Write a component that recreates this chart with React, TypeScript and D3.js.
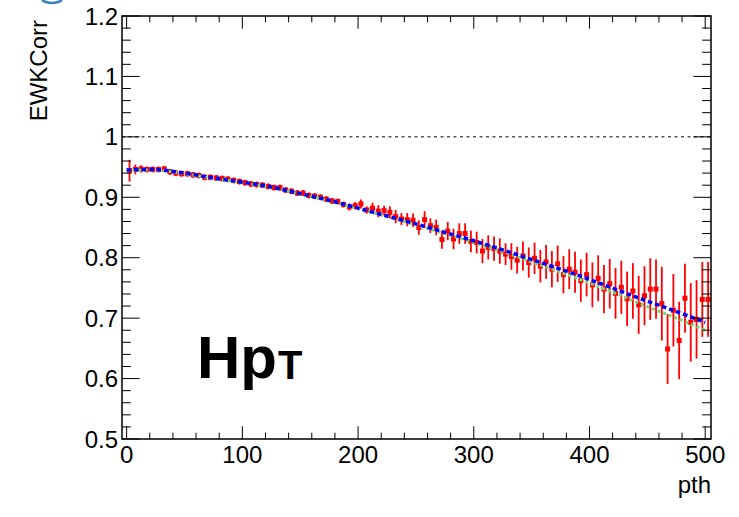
import React from "react";
import * as d3 from "d3";

// red histogram: bin centres 2.5 .. 502.5 (width 5)
const redVal = [
  0.944, 0.946, 0.947, 0.946, 0.946, 0.946, 0.947, 0.942, 0.940, 0.939,
  0.939, 0.937, 0.936, 0.933, 0.933, 0.932, 0.931, 0.930, 0.928, 0.926,
  0.924, 0.922, 0.921, 0.920, 0.918, 0.916, 0.916, 0.912, 0.910, 0.907,
  0.907, 0.903, 0.902, 0.900, 0.897, 0.894, 0.893, 0.888, 0.884, 0.886,
  0.889, 0.879, 0.882, 0.877, 0.878, 0.875, 0.868, 0.864, 0.863, 0.862,
  0.850, 0.863, 0.853, 0.850, 0.830, 0.844, 0.831, 0.840, 0.840, 0.827,
  0.825, 0.811, 0.817, 0.815, 0.811, 0.806, 0.802, 0.796, 0.803, 0.792,
  0.799, 0.786, 0.793, 0.781, 0.790, 0.772, 0.781, 0.776, 0.762, 0.772,
  0.755, 0.766, 0.748, 0.757, 0.741, 0.751, 0.732, 0.745, 0.722, 0.737,
  0.748, 0.748, 0.724, 0.649, 0.713, 0.663, 0.733, 0.693, 0.698, 0.731,
  0.731,
];
const redErr = [
  0.018, 0.008, 0.006, 0.005, 0.005, 0.005, 0.005, 0.005, 0.005, 0.005,
  0.005, 0.005, 0.005, 0.005, 0.005, 0.005, 0.005, 0.005, 0.005, 0.005,
  0.005, 0.005, 0.005, 0.005, 0.005, 0.005, 0.005, 0.005, 0.005, 0.005,
  0.005, 0.005, 0.005, 0.005, 0.005, 0.005, 0.005, 0.005, 0.006, 0.006,
  0.0075, 0.006, 0.009, 0.010, 0.008, 0.010, 0.011, 0.010, 0.011, 0.011,
  0.012, 0.014, 0.012, 0.013, 0.015, 0.015, 0.017, 0.017, 0.017, 0.018,
  0.018, 0.020, 0.020, 0.020, 0.021, 0.018, 0.022, 0.022, 0.024, 0.025,
  0.026, 0.027, 0.028, 0.030, 0.030, 0.031, 0.033, 0.034, 0.035, 0.036,
  0.037, 0.038, 0.040, 0.041, 0.042, 0.044, 0.045, 0.046, 0.048, 0.049,
  0.051, 0.049, 0.061, 0.058, 0.060, 0.064, 0.057, 0.065, 0.065, 0.062,
  0.062,
];

// smooth corrections read every 25 GeV
const curveX = [0, 25, 50, 75, 100, 125, 150, 175, 200, 225, 250, 275, 300, 325, 350, 375, 400, 425, 450, 475, 500];
const blueVal = [0.945, 0.946, 0.940, 0.932, 0.925, 0.917, 0.906, 0.895, 0.882, 0.869, 0.856, 0.842, 0.828, 0.813, 0.797, 0.781, 0.764, 0.746, 0.728, 0.711, 0.693];
const greenVal = [0.944, 0.945, 0.939, 0.931, 0.924, 0.916, 0.905, 0.894, 0.881, 0.868, 0.854, 0.840, 0.825, 0.810, 0.793, 0.776, 0.758, 0.739, 0.719, 0.700, 0.680];

const xMajor = [0, 100, 200, 300, 400, 500];
const yMajor = [0.5, 0.6, 0.7, 0.8, 0.9, 1.0, 1.1, 1.2];

const W = 739;
const H = 517;
const left = 122;
const right = 711;
const top = 16;
const bottom = 439;
const font = "'Liberation Sans', Arial, Helvetica, sans-serif";

export default function App() {
  const x = d3.scaleLinear().domain([-4, 505]).range([left, right]);
  const y = d3.scaleLinear().domain([0.5, 1.2]).range([bottom, top]);

  const xMinor = d3.range(0, 505, 20);
  const yMinor = d3.range(0.5, 1.2001, 0.02);

  const xTickMaj = 0.03 * (bottom - top);
  const yTickMaj = 0.03 * (right - left);

  const line = d3
    .line<number>()
    .x((_, i) => x(curveX[i]))
    .y((d) => y(d))
    .curve(d3.curveCatmullRom);

  const fmt = d3.format("~g");

  return (
    <svg
      width={W}
      height={H}
      style={{ position: "absolute", left: 0, top: 0, background: "#fff" }}
      fontFamily={font}
    >
      <defs>
        <clipPath id="frame">
          <rect x={left} y={top} width={right - left} height={bottom - top} />
        </clipPath>
      </defs>

      {/* partial logo arc at the top-left corner */}
      <path d="M 42 0 A 14 10 0 0 0 62 0" fill="none" stroke="#3d7fbf" strokeWidth={2.5} />

      {/* reference line at 1 */}
      <line x1={left} x2={right} y1={y(1)} y2={y(1)} stroke="#000" strokeWidth={1} strokeDasharray="3,3.5" />

      <g clipPath="url(#frame)">
        {/* red points with errors */}
        {redVal.map((v, i) => {
          const cx = x(2.5 + 5 * i);
          return (
            <g key={i}>
              <line x1={cx} x2={cx} y1={y(v - redErr[i])} y2={y(v + redErr[i])} stroke="#ff0000" strokeWidth={1.8} />
              <rect x={cx - 2.5} y={y(v) - 2.5} width={5} height={5} fill="#ff0000" />
            </g>
          );
        })}
        <path d={line(greenVal) || ""} fill="none" stroke="#74d874" strokeWidth={3} strokeDasharray="3,3" />
        <path d={line(blueVal) || ""} fill="none" stroke="#0000ff" strokeWidth={3.5} strokeDasharray="4.5,3" />
      </g>

      {/* x ticks bottom and top */}
      {xMinor.map((t) => {
        const major = t % 100 === 0;
        const len = major ? xTickMaj : xTickMaj / 2;
        return (
          <g key={"x" + t} stroke="#000" strokeWidth={1}>
            <line x1={x(t)} x2={x(t)} y1={bottom} y2={bottom - len} />
            <line x1={x(t)} x2={x(t)} y1={top} y2={top + len} />
          </g>
        );
      })}
      {/* y ticks left and right */}
      {yMinor.map((t, i) => {
        const major = i % 5 === 0;
        const len = major ? yTickMaj : yTickMaj / 2;
        return (
          <g key={"y" + i} stroke="#000" strokeWidth={1}>
            <line x1={left} x2={left + len} y1={y(t)} y2={y(t)} />
            <line x1={right} x2={right - len} y1={y(t)} y2={y(t)} />
          </g>
        );
      })}

      {/* frame */}
      <rect x={left} y={top} width={right - left} height={bottom - top} fill="none" stroke="#000" strokeWidth={1.5} />

      {/* tick labels */}
      {xMajor.map((t) => (
        <text key={"xl" + t} x={x(t)} y={463} textAnchor="middle" fontSize={24}>
          {t}
        </text>
      ))}
      {yMajor.map((t) => (
        <text key={"yl" + t} x={118} y={y(t) + 8.5} textAnchor="end" fontSize={24}>
          {fmt(t)}
        </text>
      ))}

      {/* axis titles */}
      <text x={right} y={493} textAnchor="end" fontSize={24}>
        pth
      </text>
      <text transform="translate(47,20) rotate(-90)" textAnchor="end" fontSize={24}>
        EWKCorr
      </text>

      {/* label */}
      <text x={197} y={378} fontSize={60} fontWeight="bold">
        Hp
        <tspan fontSize={40} dx={1} dy={1}>
          T
        </tspan>
      </text>
    </svg>
  );
}
